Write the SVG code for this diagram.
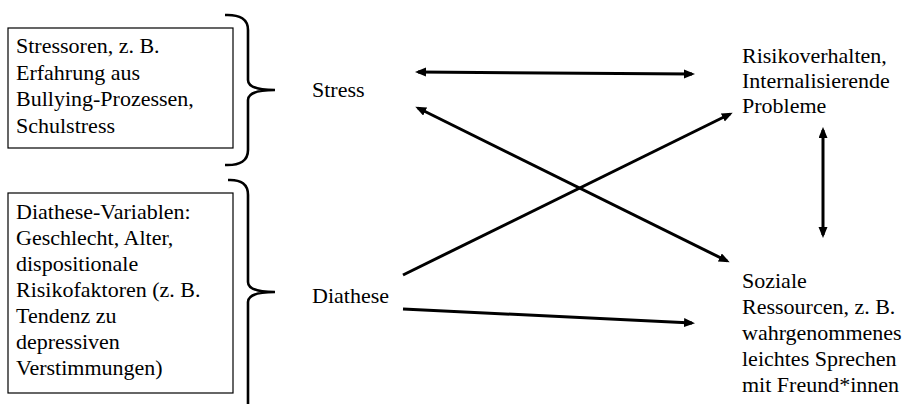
<svg xmlns="http://www.w3.org/2000/svg" width="904" height="404" viewBox="0 0 904 404">
<style>
text{font-family:"Liberation Serif","Times New Roman",serif;font-size:22px;fill:#000}
.box{fill:#fff;stroke:#000;stroke-width:1.2}
.brace{fill:none;stroke:#000;stroke-width:2.6}
.arr{fill:none;stroke:#000;stroke-width:3}
</style>
<defs>
<marker id="ah" markerUnits="userSpaceOnUse" markerWidth="12" markerHeight="10" refX="8" refY="4.5" orient="auto-start-reverse" viewBox="0 0 12 10">
<path d="M0,0 L11,4.5 L0,9 z" fill="#000"/>
</marker>
</defs>
<rect width="904" height="404" fill="#fff"/>
<g id="stressoren">
<rect class="box" x="8" y="28" width="225" height="120"/>
<text x="16" y="53">Stressoren, z. B.</text>
<text x="16" y="79.5">Erfahrung aus</text>
<text x="16" y="106">Bullying-Prozessen,</text>
<text x="16" y="132.5">Schulstress</text>
</g>
<g id="diathese-variablen">
<rect class="box" x="8" y="193" width="225" height="200"/>
<text x="16" y="219">Diathese-Variablen:</text>
<text x="16" y="245">Geschlecht, Alter,</text>
<text x="16" y="271">dispositionale</text>
<text x="16" y="297">Risikofaktoren (z. B.</text>
<text x="16" y="323">Tendenz zu</text>
<text x="16" y="349">depressiven</text>
<text x="16" y="375">Verstimmungen)</text>
</g>
<g id="braces">
<path class="brace" d="M225,15 Q248,14 248,30 L248,80 Q248,90 275,90 Q248,90 248,100 L248,150 Q248,166 225,165"/>
<path class="brace" d="M228,180 Q248,179 248,195 L248,282 Q248,292 275,292 Q248,292 248,302 L248,404"/>
</g>
<g id="stress"><text x="312" y="97">Stress</text></g>
<g id="diathese"><text x="312" y="303">Diathese</text></g>
<g id="risikoverhalten">
<text x="742" y="63">Risikoverhalten,</text>
<text x="742" y="88">Internalisierende</text>
<text x="742" y="113">Probleme</text>
</g>
<g id="soziale">
<text x="742" y="288">Soziale</text>
<text x="742" y="314">Ressourcen, z. B.</text>
<text x="742" y="340">wahrgenommenes</text>
<text x="742" y="366">leichtes Sprechen</text>
<text x="742" y="392">mit Freund*innen</text>
</g>
<g id="connectors">
<line class="arr" x1="418" y1="72" x2="692" y2="74" marker-start="url(#ah)" marker-end="url(#ah)"/>
<line class="arr" x1="418" y1="108" x2="727" y2="261" marker-start="url(#ah)" marker-end="url(#ah)"/>
<line class="arr" x1="403" y1="275" x2="730" y2="114" marker-end="url(#ah)"/>
<line class="arr" x1="403" y1="309" x2="692" y2="323" marker-end="url(#ah)"/>
<line class="arr" x1="823" y1="130" x2="823" y2="235" marker-start="url(#ah)" marker-end="url(#ah)"/>
</g>
</svg>
